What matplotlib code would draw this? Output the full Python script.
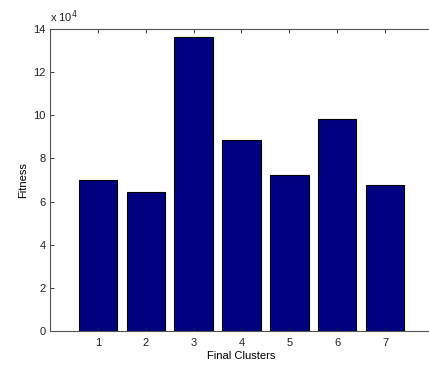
import matplotlib
matplotlib.use("Agg")
import matplotlib.pyplot as plt
import numpy as np

clusters = [1, 2, 3, 4, 5, 6, 7]
fitness = [70000, 64600, 136500, 88400, 72500, 98300, 67800]
y_ticks = [0, 2, 4, 6, 8, 10, 12, 14]
scale_exp = 4

plt.rcParams['font.family'] = ['Liberation Sans', 'DejaVu Sans']

fig = plt.figure(figsize=(4.29, 3.65), dpi=100)
ax = fig.add_axes([50/429, 1-331/365, 383/429, 302/365])

vals = np.array(fitness) / 10**scale_exp
ax.bar(clusters, vals, width=0.8, color='#000080', edgecolor='black', linewidth=0.8)

ax.set_xlim(0, 8)
ax.set_ylim(0, 14)
ax.set_xticks(clusters)
ax.set_yticks(y_ticks)
ax.set_xticklabels([str(c) for c in clusters])
ax.set_yticklabels([str(t) for t in y_ticks])
ax.tick_params(direction='in', length=3, width=0.6, labelsize=8, colors='#222222',
               top=True, right=True)
ax.tick_params(axis='x', pad=5)
ax.tick_params(axis='y', pad=3)
for s in ax.spines.values():
    s.set_color('#555555')
    s.set_linewidth(0.8)

ax.set_xlabel('Final Clusters', fontsize=8, labelpad=2.5)
ax.set_ylabel('Fitness', fontsize=8, labelpad=3.5)
ax.text(0.0, 1.012, r'x 10$^{%d}$' % scale_exp, transform=ax.transAxes, fontsize=8,
        ha='left', va='bottom', color='#222222')

fig.savefig('out.png', dpi=100)
